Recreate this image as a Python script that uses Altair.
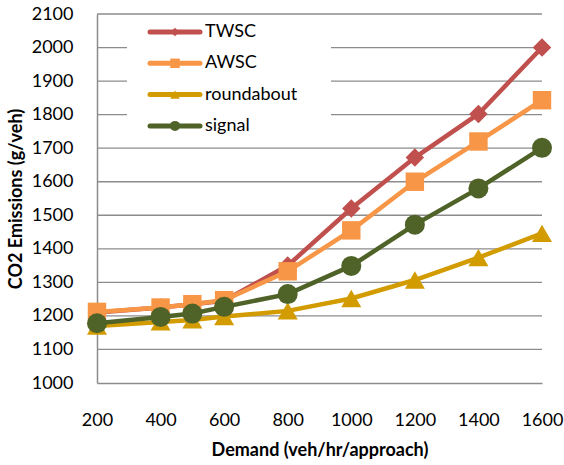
import altair as alt
import pandas as pd

DEMAND = [200, 400, 500, 600, 800, 1000, 1200, 1400, 1600]
SERIES = ["TWSC", "AWSC", "roundabout", "signal"]
TWSC = [1210, 1225, 1235, 1245, 1350, 1520, 1672, 1802, 2000]
AWSC = [1212, 1225, 1235, 1247, 1333, 1455, 1600, 1720, 1843]
ROUNDABOUT = [1170, 1182, 1188, 1198, 1215, 1252, 1307, 1374, 1446]
SIGNAL = [1178, 1197, 1207, 1227, 1265, 1349, 1472, 1580, 1701]
VALUES = [TWSC, AWSC, ROUNDABOUT, SIGNAL]
COLORS = ["#C0504D", "#F79646", "#D29B00", "#4F6228"]
SHAPES = ["diamond", "square", "triangle-up", "circle"]
SIZES = [340, 340, 400, 400]
LEGEND_SIZES = [70, 90, 90, 100]
X_TICKS = [200, 400, 600, 800, 1000, 1200, 1400, 1600]
Y_TICKS = list(range(1000, 2101, 100))

FONT = "Lato"
GRID = "#8C8C8C"

xscale = alt.Scale(domain=[200, 1600], nice=False, zero=False)
yscale = alt.Scale(domain=[1000, 2100], nice=False, zero=False)

xaxis = alt.Axis(values=X_TICKS, title="Demand (veh/hr/approach)", grid=False,
                 ticks=False, labelPadding=28, titlePadding=12,
                 labelFlush=False, labelOverlap=False,
                 domainColor=GRID, domainWidth=1.5, format="d")
yaxis = alt.Axis(values=Y_TICKS, title="CO2 Emissions (g/veh)", grid=False,
                 ticks=False, labelPadding=24,
                 titlePadding=6, domainColor=GRID, domainWidth=1.5, format="d")

rows = []
for i, name in enumerate(SERIES):
    for d, v in zip(DEMAND, VALUES[i]):
        rows.append({"demand": d, "value": v, "series": name})
all_df = pd.DataFrame(rows)

# horizontal gridlines (drawn as rules through the y scale)
grid_df = pd.DataFrame({"value": Y_TICKS[1:]})
grid = alt.Chart(grid_df).mark_rule(color=GRID, strokeWidth=1.3).encode(
    y=alt.Y("value:Q", scale=yscale, axis=yaxis),
    x=alt.value(0), x2=alt.value(445))

layers = [grid]
for i, name in enumerate(SERIES):
    base = alt.Chart(all_df).transform_filter(alt.datum.series == name)
    enc = dict(
        x=alt.X("demand:Q", scale=xscale, axis=xaxis),
        y=alt.Y("value:Q", scale=yscale, axis=yaxis),
    )
    line = base.mark_line(color=COLORS[i], strokeWidth=4.5).encode(**enc)
    pts = base.mark_point(shape=SHAPES[i], size=SIZES[i], filled=True,
                          color=COLORS[i], opacity=1).encode(**enc)
    layers += [line, pts]

# Legend (drawn inside plot area, top-left, with white background)
leg_layers = [alt.Chart(pd.DataFrame({"series": SERIES})).mark_rect(color="white").encode(
    x=alt.value(30), x2=alt.value(234), y=alt.value(4), y2=alt.value(117))]
for i, name in enumerate(SERIES):
    row = alt.Chart(pd.DataFrame({"series": [name]}))
    yy = alt.value(18 + 31.3 * i)
    leg_layers.append(row.mark_rule(strokeWidth=5, strokeCap="round", color=COLORS[i]).encode(
        x=alt.value(53), x2=alt.value(103), y=yy))
    leg_layers.append(row.mark_point(filled=True, opacity=1, shape=SHAPES[i],
                                     size=LEGEND_SIZES[i], color=COLORS[i]).encode(
        x=alt.value(78), y=yy))
    leg_layers.append(row.mark_text(align="left", baseline="middle", font=FONT,
                                    fontSize=18, color="black").encode(
        x=alt.value(108), y=yy, text="series:N"))

layers = [layers[0]] + leg_layers[:1] + layers[1:] + leg_layers[1:]

chart = alt.layer(*layers).properties(
    width=445, height=369,
    autosize=alt.AutoSizeParams(type="none"),
    padding={"left": 97, "top": 14, "right": 22, "bottom": 82},
).configure_view(stroke=None).configure_axis(
    labelFont=FONT, titleFont=FONT, labelFontSize=18, titleFontSize=18,
    labelColor="black", titleColor="black", titleFontWeight="bold", grid=False,
)

chart.save("out.html", embed_options={"renderer": "svg", "actions": False})
